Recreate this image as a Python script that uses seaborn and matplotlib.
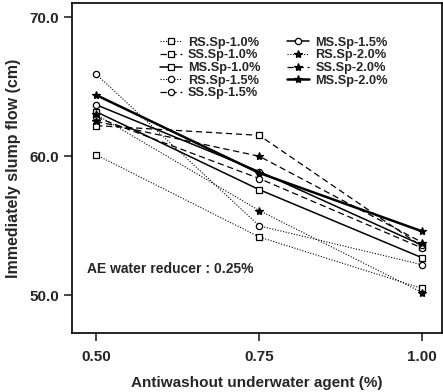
import matplotlib
matplotlib.use("Agg")
import matplotlib.pyplot as plt
import seaborn as sns
import pandas as pd

sns.set_style("ticks")
plt.rcParams['font.family'] = ['Liberation Sans', 'DejaVu Sans']
plt.rcParams['font.weight'] = 'bold'

agent = [0.50, 0.75, 1.00]
series_names = ["RS.Sp-1.0%", "SS.Sp-1.0%", "MS.Sp-1.0%", "RS.Sp-1.5%", "SS.Sp-1.5%",
                "MS.Sp-1.5%", "RS.Sp-2.0%", "SS.Sp-2.0%", "MS.Sp-2.0%"]
rs_10 = [60.1, 54.2, 50.5]
ss_10 = [62.2, 61.5, 53.5]
ms_10 = [63.2, 57.6, 52.7]
rs_15 = [65.9, 55.0, 52.2]
ss_15 = [62.8, 58.4, 53.4]
ms_15 = [63.7, 58.9, 53.6]
rs_20 = [63.0, 56.1, 50.2]
ss_20 = [62.5, 60.0, 53.8]
ms_20 = [64.4, 58.8, 54.6]
values = [rs_10, ss_10, ms_10, rs_15, ss_15, ms_15, rs_20, ss_20, ms_20]

styles = {
    "RS": dict(linestyle=(0, (1, 1.5)), linewidth=0.8),
    "SS": dict(linestyle=(0, (5, 3)), linewidth=0.9),
    "MS": dict(linestyle='-', linewidth=1.1),
}
mk = {"1.0": ('s', 'white'), "1.5": ('o', 'white'), "2.0": ('*', 'black')}

fig = plt.figure(figsize=(4.43, 3.92), dpi=100)
ax = fig.add_axes([0.1625, 0.1505, 0.835, 0.8415])

for name, vals in zip(series_names, values):
    df = pd.DataFrame({"agent": agent, "flow": vals})
    grp = name[:2]
    pct = name.split("-")[1][:3]
    m, fc = mk[pct]
    st = dict(styles[grp])
    if name == "MS.Sp-2.0%":
        st["linewidth"] = 1.8
    sns.lineplot(data=df, x="agent", y="flow", ax=ax, color='black',
                 marker=m, markersize=4.5 if m != '*' else 6,
                 markerfacecolor=fc, markeredgecolor='black', markeredgewidth=0.9,
                 label=name, **st)

ax.set_xlim(0.463, 1.03)
ax.set_ylim(47.3, 71.0)
ax.set_xticks([0.50, 0.75, 1.00])
ax.set_xticklabels(["0.50", "0.75", "1.00"])
ax.set_yticks([50.0, 60.0, 70.0])
ax.set_yticklabels(["50.0", "60.0", "70.0"])
ax.tick_params(axis='both', labelsize=11, length=6, width=1.2, direction='out')
ax.tick_params(axis='x', pad=6)
for lab in ax.get_xticklabels() + ax.get_yticklabels():
    lab.set_fontweight('bold')
for sp in ax.spines.values():
    sp.set_linewidth(1.2)
    sp.set_color('black')

ax.set_xlabel("Antiwashout underwater agent (%)", fontsize=11, fontweight='bold', labelpad=9)
ax.set_ylabel("Immediately slump flow (cm)", fontsize=11.5, fontweight='bold', labelpad=6)

ax.text(0.486, 51.9, "AE water reducer : 0.25%", fontsize=10, va='center', ha='left')

leg = ax.legend(ncol=2, loc='upper left', bbox_to_anchor=(0.238, 0.898), frameon=False,
                fontsize=9.2, handlelength=1.7, handletextpad=0.5, columnspacing=2.1,
                labelspacing=0.05, borderaxespad=0, borderpad=0)
for t in leg.get_texts():
    t.set_fontweight('bold')

fig.savefig("out.png", dpi=100)
